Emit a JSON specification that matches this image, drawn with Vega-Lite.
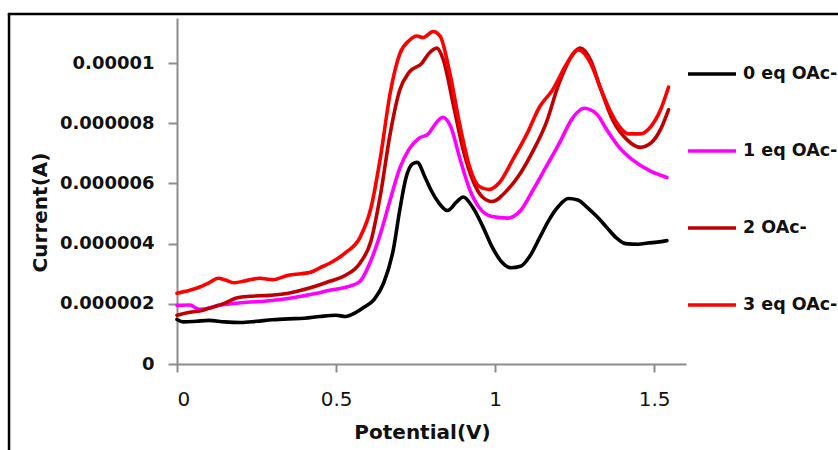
{
  "$schema": "https://vega.github.io/schema/vega-lite/v6.json",
  "width": 509,
  "height": 346,
  "autosize": {"type": "none"},
  "padding": {"left": 177, "top": 18, "right": 152, "bottom": 86},
  "background": "white",
  "config": {
    "view": {"stroke": null},
    "font": "DejaVu Sans"
  },
  "datasets": {
    "cv": [
      {"s": "0 eq OAc-", "v": 0.00, "c": 1.48e-6},
      {"s": "0 eq OAc-", "v": 0.02, "c": 1.40e-6},
      {"s": "0 eq OAc-", "v": 0.06, "c": 1.42e-6},
      {"s": "0 eq OAc-", "v": 0.10, "c": 1.45e-6},
      {"s": "0 eq OAc-", "v": 0.15, "c": 1.40e-6},
      {"s": "0 eq OAc-", "v": 0.20, "c": 1.38e-6},
      {"s": "0 eq OAc-", "v": 0.25, "c": 1.42e-6},
      {"s": "0 eq OAc-", "v": 0.30, "c": 1.47e-6},
      {"s": "0 eq OAc-", "v": 0.35, "c": 1.50e-6},
      {"s": "0 eq OAc-", "v": 0.40, "c": 1.52e-6},
      {"s": "0 eq OAc-", "v": 0.45, "c": 1.58e-6},
      {"s": "0 eq OAc-", "v": 0.50, "c": 1.62e-6},
      {"s": "0 eq OAc-", "v": 0.53, "c": 1.58e-6},
      {"s": "0 eq OAc-", "v": 0.56, "c": 1.70e-6},
      {"s": "0 eq OAc-", "v": 0.59, "c": 1.90e-6},
      {"s": "0 eq OAc-", "v": 0.62, "c": 2.15e-6},
      {"s": "0 eq OAc-", "v": 0.65, "c": 2.70e-6},
      {"s": "0 eq OAc-", "v": 0.68, "c": 3.80e-6},
      {"s": "0 eq OAc-", "v": 0.70, "c": 5.10e-6},
      {"s": "0 eq OAc-", "v": 0.72, "c": 6.20e-6},
      {"s": "0 eq OAc-", "v": 0.74, "c": 6.65e-6},
      {"s": "0 eq OAc-", "v": 0.755, "c": 6.70e-6},
      {"s": "0 eq OAc-", "v": 0.78, "c": 6.20e-6},
      {"s": "0 eq OAc-", "v": 0.80, "c": 5.75e-6},
      {"s": "0 eq OAc-", "v": 0.82, "c": 5.40e-6},
      {"s": "0 eq OAc-", "v": 0.85, "c": 5.10e-6},
      {"s": "0 eq OAc-", "v": 0.88, "c": 5.40e-6},
      {"s": "0 eq OAc-", "v": 0.90, "c": 5.55e-6},
      {"s": "0 eq OAc-", "v": 0.93, "c": 5.20e-6},
      {"s": "0 eq OAc-", "v": 0.96, "c": 4.60e-6},
      {"s": "0 eq OAc-", "v": 0.99, "c": 3.90e-6},
      {"s": "0 eq OAc-", "v": 1.02, "c": 3.40e-6},
      {"s": "0 eq OAc-", "v": 1.05, "c": 3.20e-6},
      {"s": "0 eq OAc-", "v": 1.08, "c": 3.25e-6},
      {"s": "0 eq OAc-", "v": 1.11, "c": 3.60e-6},
      {"s": "0 eq OAc-", "v": 1.14, "c": 4.20e-6},
      {"s": "0 eq OAc-", "v": 1.17, "c": 4.80e-6},
      {"s": "0 eq OAc-", "v": 1.20, "c": 5.25e-6},
      {"s": "0 eq OAc-", "v": 1.23, "c": 5.50e-6},
      {"s": "0 eq OAc-", "v": 1.26, "c": 5.45e-6},
      {"s": "0 eq OAc-", "v": 1.29, "c": 5.20e-6},
      {"s": "0 eq OAc-", "v": 1.32, "c": 4.90e-6},
      {"s": "0 eq OAc-", "v": 1.35, "c": 4.55e-6},
      {"s": "0 eq OAc-", "v": 1.38, "c": 4.20e-6},
      {"s": "0 eq OAc-", "v": 1.41, "c": 4.00e-6},
      {"s": "0 eq OAc-", "v": 1.45, "c": 3.98e-6},
      {"s": "0 eq OAc-", "v": 1.48, "c": 4.02e-6},
      {"s": "0 eq OAc-", "v": 1.51, "c": 4.05e-6},
      {"s": "0 eq OAc-", "v": 1.54, "c": 4.10e-6},

      {"s": "1 eq OAc-", "v": 0.00, "c": 1.95e-6},
      {"s": "1 eq OAc-", "v": 0.04, "c": 1.96e-6},
      {"s": "1 eq OAc-", "v": 0.07, "c": 1.82e-6},
      {"s": "1 eq OAc-", "v": 0.10, "c": 1.85e-6},
      {"s": "1 eq OAc-", "v": 0.13, "c": 1.95e-6},
      {"s": "1 eq OAc-", "v": 0.17, "c": 2.00e-6},
      {"s": "1 eq OAc-", "v": 0.22, "c": 2.05e-6},
      {"s": "1 eq OAc-", "v": 0.29, "c": 2.10e-6},
      {"s": "1 eq OAc-", "v": 0.35, "c": 2.18e-6},
      {"s": "1 eq OAc-", "v": 0.39, "c": 2.25e-6},
      {"s": "1 eq OAc-", "v": 0.44, "c": 2.35e-6},
      {"s": "1 eq OAc-", "v": 0.48, "c": 2.45e-6},
      {"s": "1 eq OAc-", "v": 0.53, "c": 2.55e-6},
      {"s": "1 eq OAc-", "v": 0.575, "c": 2.75e-6},
      {"s": "1 eq OAc-", "v": 0.61, "c": 3.45e-6},
      {"s": "1 eq OAc-", "v": 0.64, "c": 4.35e-6},
      {"s": "1 eq OAc-", "v": 0.67, "c": 5.45e-6},
      {"s": "1 eq OAc-", "v": 0.70, "c": 6.50e-6},
      {"s": "1 eq OAc-", "v": 0.73, "c": 7.15e-6},
      {"s": "1 eq OAc-", "v": 0.76, "c": 7.50e-6},
      {"s": "1 eq OAc-", "v": 0.79, "c": 7.65e-6},
      {"s": "1 eq OAc-", "v": 0.81, "c": 7.95e-6},
      {"s": "1 eq OAc-", "v": 0.835, "c": 8.20e-6},
      {"s": "1 eq OAc-", "v": 0.86, "c": 7.90e-6},
      {"s": "1 eq OAc-", "v": 0.89, "c": 6.80e-6},
      {"s": "1 eq OAc-", "v": 0.92, "c": 5.80e-6},
      {"s": "1 eq OAc-", "v": 0.95, "c": 5.20e-6},
      {"s": "1 eq OAc-", "v": 0.99, "c": 4.90e-6},
      {"s": "1 eq OAc-", "v": 1.04, "c": 4.85e-6},
      {"s": "1 eq OAc-", "v": 1.08, "c": 5.10e-6},
      {"s": "1 eq OAc-", "v": 1.12, "c": 5.80e-6},
      {"s": "1 eq OAc-", "v": 1.16, "c": 6.55e-6},
      {"s": "1 eq OAc-", "v": 1.20, "c": 7.30e-6},
      {"s": "1 eq OAc-", "v": 1.245, "c": 8.20e-6},
      {"s": "1 eq OAc-", "v": 1.28, "c": 8.50e-6},
      {"s": "1 eq OAc-", "v": 1.32, "c": 8.30e-6},
      {"s": "1 eq OAc-", "v": 1.35, "c": 7.80e-6},
      {"s": "1 eq OAc-", "v": 1.39, "c": 7.20e-6},
      {"s": "1 eq OAc-", "v": 1.43, "c": 6.80e-6},
      {"s": "1 eq OAc-", "v": 1.49, "c": 6.40e-6},
      {"s": "1 eq OAc-", "v": 1.54, "c": 6.20e-6},

      {"s": "2 OAc-", "v": 0.00, "c": 1.62e-6},
      {"s": "2 OAc-", "v": 0.04, "c": 1.72e-6},
      {"s": "2 OAc-", "v": 0.07, "c": 1.76e-6},
      {"s": "2 OAc-", "v": 0.10, "c": 1.85e-6},
      {"s": "2 OAc-", "v": 0.14, "c": 1.98e-6},
      {"s": "2 OAc-", "v": 0.19, "c": 2.20e-6},
      {"s": "2 OAc-", "v": 0.23, "c": 2.25e-6},
      {"s": "2 OAc-", "v": 0.29, "c": 2.28e-6},
      {"s": "2 OAc-", "v": 0.35, "c": 2.35e-6},
      {"s": "2 OAc-", "v": 0.39, "c": 2.45e-6},
      {"s": "2 OAc-", "v": 0.44, "c": 2.60e-6},
      {"s": "2 OAc-", "v": 0.48, "c": 2.75e-6},
      {"s": "2 OAc-", "v": 0.53, "c": 2.95e-6},
      {"s": "2 OAc-", "v": 0.575, "c": 3.35e-6},
      {"s": "2 OAc-", "v": 0.61, "c": 4.10e-6},
      {"s": "2 OAc-", "v": 0.64, "c": 5.65e-6},
      {"s": "2 OAc-", "v": 0.67, "c": 7.65e-6},
      {"s": "2 OAc-", "v": 0.70, "c": 9.10e-6},
      {"s": "2 OAc-", "v": 0.73, "c": 9.70e-6},
      {"s": "2 OAc-", "v": 0.77, "c": 10.00e-6},
      {"s": "2 OAc-", "v": 0.79, "c": 10.30e-6},
      {"s": "2 OAc-", "v": 0.817, "c": 10.50e-6},
      {"s": "2 OAc-", "v": 0.836, "c": 10.15e-6},
      {"s": "2 OAc-", "v": 0.87, "c": 8.55e-6},
      {"s": "2 OAc-", "v": 0.90, "c": 7.10e-6},
      {"s": "2 OAc-", "v": 0.93, "c": 6.10e-6},
      {"s": "2 OAc-", "v": 0.96, "c": 5.55e-6},
      {"s": "2 OAc-", "v": 0.99, "c": 5.40e-6},
      {"s": "2 OAc-", "v": 1.04, "c": 5.80e-6},
      {"s": "2 OAc-", "v": 1.08, "c": 6.35e-6},
      {"s": "2 OAc-", "v": 1.12, "c": 7.10e-6},
      {"s": "2 OAc-", "v": 1.16, "c": 8.00e-6},
      {"s": "2 OAc-", "v": 1.20, "c": 9.30e-6},
      {"s": "2 OAc-", "v": 1.245, "c": 10.30e-6},
      {"s": "2 OAc-", "v": 1.267, "c": 10.50e-6},
      {"s": "2 OAc-", "v": 1.30, "c": 10.10e-6},
      {"s": "2 OAc-", "v": 1.33, "c": 9.20e-6},
      {"s": "2 OAc-", "v": 1.37, "c": 8.10e-6},
      {"s": "2 OAc-", "v": 1.415, "c": 7.45e-6},
      {"s": "2 OAc-", "v": 1.456, "c": 7.20e-6},
      {"s": "2 OAc-", "v": 1.49, "c": 7.35e-6},
      {"s": "2 OAc-", "v": 1.52, "c": 7.80e-6},
      {"s": "2 OAc-", "v": 1.545, "c": 8.45e-6},

      {"s": "3 eq OAc-", "v": 0.00, "c": 2.35e-6},
      {"s": "3 eq OAc-", "v": 0.04, "c": 2.45e-6},
      {"s": "3 eq OAc-", "v": 0.07, "c": 2.55e-6},
      {"s": "3 eq OAc-", "v": 0.10, "c": 2.70e-6},
      {"s": "3 eq OAc-", "v": 0.13, "c": 2.85e-6},
      {"s": "3 eq OAc-", "v": 0.15, "c": 2.80e-6},
      {"s": "3 eq OAc-", "v": 0.18, "c": 2.70e-6},
      {"s": "3 eq OAc-", "v": 0.22, "c": 2.78e-6},
      {"s": "3 eq OAc-", "v": 0.26, "c": 2.85e-6},
      {"s": "3 eq OAc-", "v": 0.30, "c": 2.80e-6},
      {"s": "3 eq OAc-", "v": 0.35, "c": 2.95e-6},
      {"s": "3 eq OAc-", "v": 0.39, "c": 3.00e-6},
      {"s": "3 eq OAc-", "v": 0.42, "c": 3.05e-6},
      {"s": "3 eq OAc-", "v": 0.45, "c": 3.20e-6},
      {"s": "3 eq OAc-", "v": 0.48, "c": 3.35e-6},
      {"s": "3 eq OAc-", "v": 0.53, "c": 3.70e-6},
      {"s": "3 eq OAc-", "v": 0.575, "c": 4.20e-6},
      {"s": "3 eq OAc-", "v": 0.61, "c": 5.20e-6},
      {"s": "3 eq OAc-", "v": 0.64, "c": 6.90e-6},
      {"s": "3 eq OAc-", "v": 0.67, "c": 9.00e-6},
      {"s": "3 eq OAc-", "v": 0.70, "c": 10.30e-6},
      {"s": "3 eq OAc-", "v": 0.73, "c": 10.75e-6},
      {"s": "3 eq OAc-", "v": 0.754, "c": 10.90e-6},
      {"s": "3 eq OAc-", "v": 0.773, "c": 10.85e-6},
      {"s": "3 eq OAc-", "v": 0.805, "c": 11.05e-6},
      {"s": "3 eq OAc-", "v": 0.827, "c": 10.90e-6},
      {"s": "3 eq OAc-", "v": 0.858, "c": 9.65e-6},
      {"s": "3 eq OAc-", "v": 0.89, "c": 7.90e-6},
      {"s": "3 eq OAc-", "v": 0.92, "c": 6.55e-6},
      {"s": "3 eq OAc-", "v": 0.95, "c": 5.90e-6},
      {"s": "3 eq OAc-", "v": 0.98, "c": 5.80e-6},
      {"s": "3 eq OAc-", "v": 1.015, "c": 6.05e-6},
      {"s": "3 eq OAc-", "v": 1.056, "c": 6.80e-6},
      {"s": "3 eq OAc-", "v": 1.10, "c": 7.65e-6},
      {"s": "3 eq OAc-", "v": 1.14, "c": 8.55e-6},
      {"s": "3 eq OAc-", "v": 1.18, "c": 9.10e-6},
      {"s": "3 eq OAc-", "v": 1.226, "c": 10.00e-6},
      {"s": "3 eq OAc-", "v": 1.26, "c": 10.45e-6},
      {"s": "3 eq OAc-", "v": 1.30, "c": 10.00e-6},
      {"s": "3 eq OAc-", "v": 1.33, "c": 9.20e-6},
      {"s": "3 eq OAc-", "v": 1.36, "c": 8.45e-6},
      {"s": "3 eq OAc-", "v": 1.39, "c": 7.90e-6},
      {"s": "3 eq OAc-", "v": 1.42, "c": 7.65e-6},
      {"s": "3 eq OAc-", "v": 1.456, "c": 7.65e-6},
      {"s": "3 eq OAc-", "v": 1.49, "c": 7.90e-6},
      {"s": "3 eq OAc-", "v": 1.52, "c": 8.45e-6},
      {"s": "3 eq OAc-", "v": 1.545, "c": 9.20e-6}
    ],
    "frame": [{}]
  },
  "layer": [
    {
      "data": {"name": "cv"},
      "mark": {"type": "line", "strokeWidth": 3.6, "strokeCap": "round", "strokeJoin": "round", "interpolate": "monotone"},
      "encoding": {
        "x": {
          "field": "v", "type": "quantitative",
          "scale": {"domain": [0, 1.6], "nice": false, "zero": false},
          "axis": {
            "title": "Potential(V)",
            "values": [0, 0.5, 1, 1.5],
            "format": "~g",
            "grid": false,
            "domainColor": "#8c8c8c", "domainWidth": 2,
            "tickColor": "#8c8c8c", "tickWidth": 2, "tickSize": 8,
            "labelFont": "DejaVu Sans", "labelFontSize": 20, "labelFontWeight": "normal", "labelColor": "#111111",
            "labelPadding": 17,
            "titleFont": "DejaVu Sans", "titleFontSize": 20, "titleFontWeight": "bold", "titleColor": "#111111",
            "titleX": 245, "titleY": 68, "titleBaseline": "middle", "titleAlign": "center"
          }
        },
        "y": {
          "field": "c", "type": "quantitative",
          "scale": {"domain": [0, 1.15e-5], "nice": false},
          "axis": {
            "title": "Current(A)",
            "values": [0, 2e-6, 4e-6, 6e-6, 8e-6, 1e-5],
            "format": ".6~f",
            "grid": false,
            "domainColor": "#8c8c8c", "domainWidth": 2,
            "tickColor": "#8c8c8c", "tickWidth": 2, "tickSize": 9,
            "labelFont": "DejaVu Sans", "labelFontSize": 18, "labelFontWeight": "bold", "labelColor": "#111111",
            "labelPadding": 14,
            "titleFont": "DejaVu Sans", "titleFontSize": 20, "titleFontWeight": "bold", "titleColor": "#111111",
            "titleAngle": -90, "titleX": -137, "titleY": 194, "titleBaseline": "middle", "titleAlign": "center"
          }
        },
        "color": {
          "field": "s", "type": "nominal",
          "scale": {
            "domain": ["0 eq OAc-", "1 eq OAc-", "2 OAc-", "3 eq OAc-"],
            "range": ["#000000", "#ff00ff", "#c00000", "#ff0000"]
          },
          "legend": {
            "title": null,
            "orient": "none",
            "legendX": 509,
            "legendY": 30,
            "padding": 0,
            "symbolType": "stroke",
            "symbolSize": 2304,
            "symbolStrokeWidth": 3.5,
            "rowPadding": 42,
            "labelOffset": 5,
            "labelFont": "DejaVu Sans", "labelFontSize": 17.5, "labelFontWeight": "bold", "labelColor": "#111111",
            "labelLimit": 200
          }
        }
      }
    },
    {
      "data": {"name": "frame"},
      "mark": {"type": "rule", "color": "#000000", "strokeWidth": 2.5},
      "encoding": {
        "x": {"datum": -0.528},
        "y": {"datum": 1.163e-5},
        "y2": {"datum": -3.0e-6}
      }
    },
    {
      "data": {"name": "frame"},
      "mark": {"type": "rule", "color": "#000000", "strokeWidth": 2.5},
      "encoding": {
        "x": {"datum": -0.532},
        "x2": {"datum": 2.1},
        "y": {"datum": 1.163e-5}
      }
    }
  ]
}
